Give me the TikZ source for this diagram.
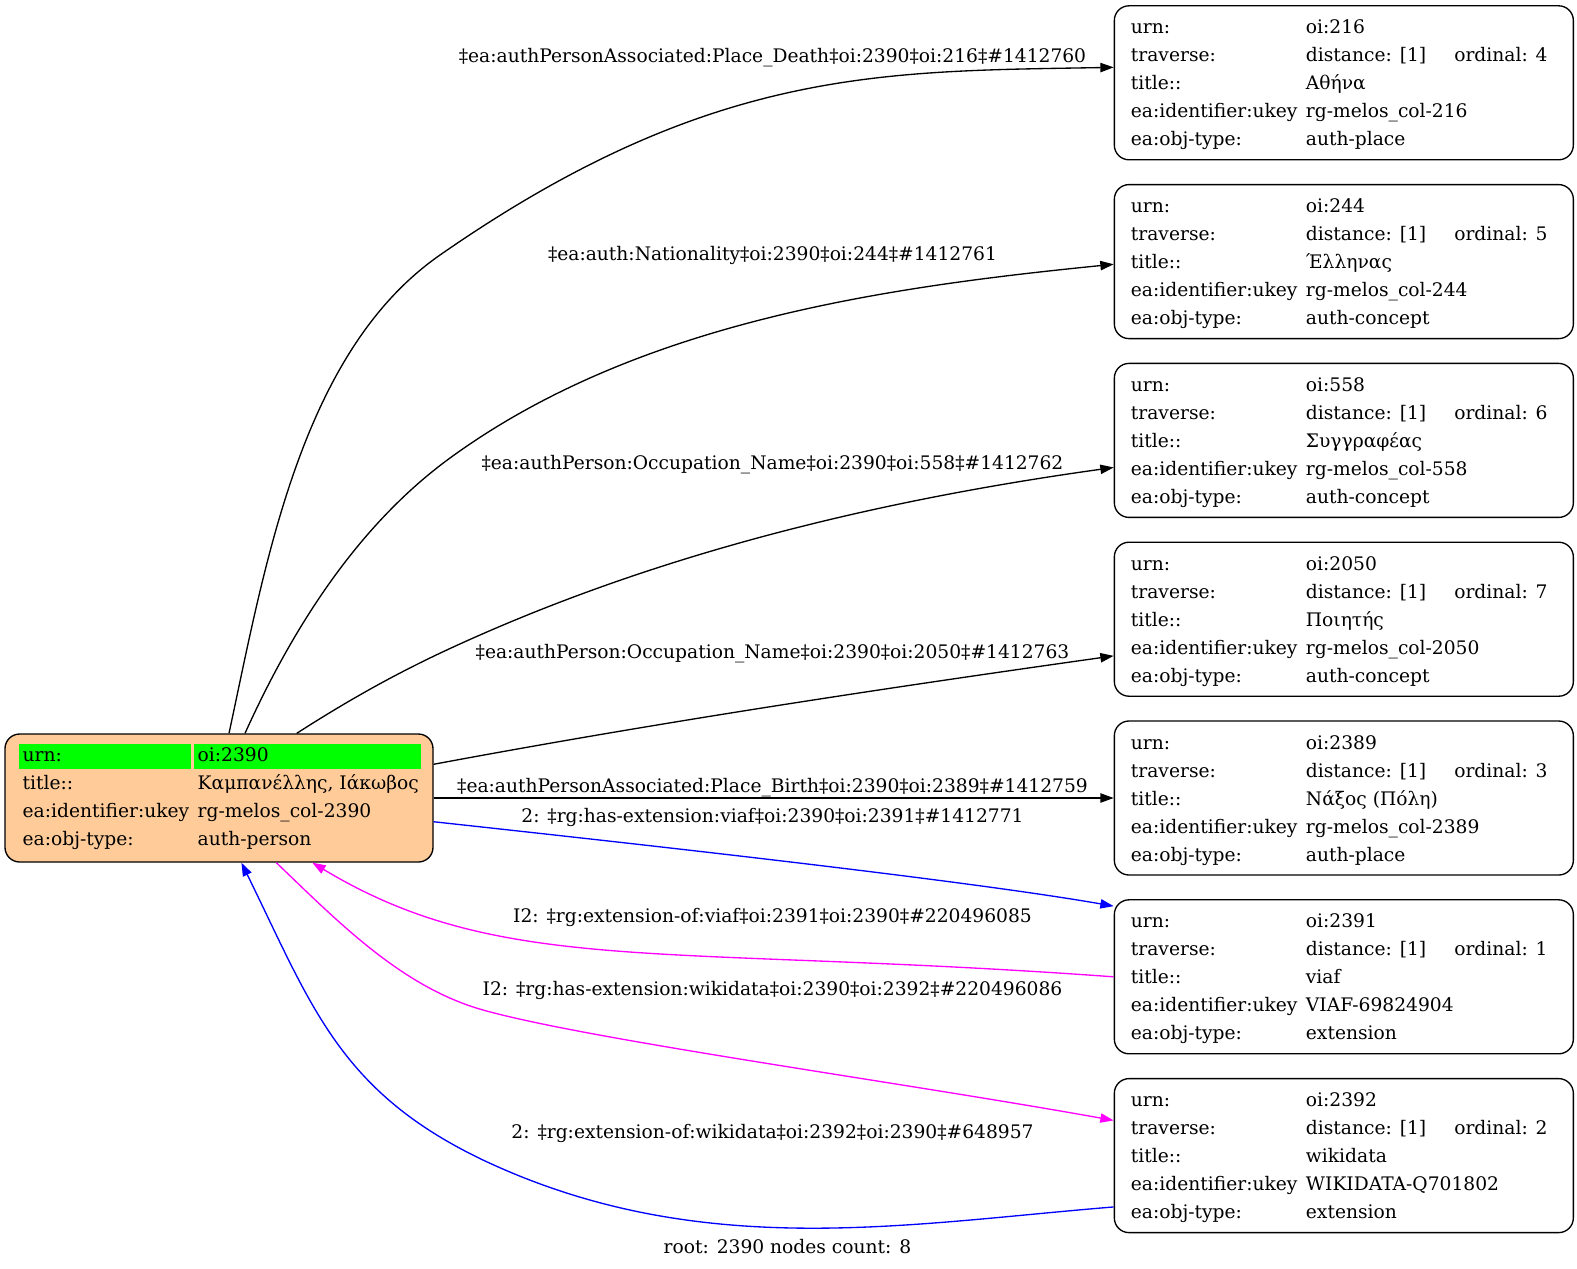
\documentclass[tikz,border=0pt]{standalone}
\usepackage{fontspec}
\setmainfont{DejaVu Serif}
\usepackage{array}
\usetikzlibrary{arrows.meta, positioning}
\definecolor{personfill}{HTML}{FFCC99}
\definecolor{urngreen}{HTML}{00FF00}
\definecolor{extmagenta}{HTML}{FF00FF}
\definecolor{viafblue}{HTML}{0000FF}
\setlength{\fboxsep}{0pt}
\tikzstyle{record} = [rectangle, draw=black, line width=1pt, rounded corners=11pt, inner sep=0pt, minimum width=344.25pt, minimum height=115.5pt]
\tikzstyle{person} = [record, fill=personfill, minimum width=321pt, minimum height=96pt]
\tikzstyle{edgelabel} = [anchor=base, inner sep=0pt]
\tikzstyle{arrow} = [line width=1pt, -{Triangle[length=10pt, width=7pt]}]
\tikzstyle{viaf} = [arrow, viafblue]
\tikzstyle{extension} = [arrow, extmagenta]
\newcommand{\recordtable}[5]{%
\begin{tabular}{@{\hspace{12.45pt}}p{131.25pt}@{}p{188.1pt}@{\hspace{12.45pt}}}
\rule{0pt}{16.95pt}urn: & oi:#1 \\
traverse: & \makebox[111.3pt][l]{distance: [1]}ordinal: #2 \\
title:: & #3 \\
ea:identifier:ukey & #4 \\
ea:obj-type: & #5
\end{tabular}}
\newcommand{\personkey}[1]{\makebox[128.8pt][l]{\hspace{2.55pt}#1}}
\newcommand{\personval}[1]{\makebox[170pt][l]{\hspace{2.8pt}#1}}
\newcommand{\urnmark}{\rule[-5.3pt]{0pt}{18.7pt}}

\begin{document}
\begin{tikzpicture}[x=0.75pt, y=-0.75pt, font=\fontsize{14}{21}\selectfont]
	\useasboundingbox (0,0) rectangle (1577,1268);
	\node (Person) [person] at (219,798) {\begin{tabular}{@{\hspace{10.7pt}}l@{\hspace{2.25pt}}l@{\hspace{9.25pt}}}
		\colorbox{urngreen}{\urnmark\personkey{urn:}} & \colorbox{urngreen}{\urnmark\personval{oi:2390}} \\
		\personkey{title::} & \personval{Καμπανέλλης, Ιάκωβος} \\
		\personkey{ea:identifier:ukey} & \personval{rg-melos\_col-2390} \\
		\personkey{ea:obj-type:} & \personval{auth-person}
	\end{tabular}};
	\node (Birth) [record, right = 510pt of Person] {\recordtable{2389}{3}{Νάξος (Πόλη)}{rg-melos\_col-2389}{auth-place}};
	\node (Poet) [record, above = 17.6pt of Birth] {\recordtable{2050}{7}{Ποιητής}{rg-melos\_col-2050}{auth-concept}};
	\node (Writer) [record, above = 17.6pt of Poet] {\recordtable{558}{6}{Συγγραφέας}{rg-melos\_col-558}{auth-concept}};
	\node (Nationality) [record, above = 17.6pt of Writer] {\recordtable{244}{5}{Έλληνας}{rg-melos\_col-244}{auth-concept}};
	\node (Death) [record, above = 17.6pt of Nationality] {\recordtable{216}{4}{Αθήνα}{rg-melos\_col-216}{auth-place}};
	\node (Viaf) [record, below = 17.6pt of Birth] {\recordtable{2391}{1}{viaf}{VIAF-69824904}{extension}};
	\node (Wikidata) [record, below = 17.6pt of Viaf] {\recordtable{2392}{2}{wikidata}{WIKIDATA-Q701802}{extension}};
	\node (DeathLabel) [edgelabel] at (772.5,62.5) {‡ea:authPersonAssociated:Place\_Death‡oi:2390‡oi:216‡\#1412760};
	\node (NationalityLabel) [edgelabel] at (772.5,260.6) {‡ea:auth:Nationality‡oi:2390‡oi:244‡\#1412761};
	\node (WriterLabel) [edgelabel] at (772.5,469.8) {‡ea:authPerson:Occupation\_Name‡oi:2390‡oi:558‡\#1412762};
	\node (PoetLabel) [edgelabel] at (772.5,658.9) {‡ea:authPerson:Occupation\_Name‡oi:2390‡oi:2050‡\#1412763};
	\node (BirthLabel) [edgelabel] at (772.5,792.4) {‡ea:authPersonAssociated:Place\_Birth‡oi:2390‡oi:2389‡\#1412759};
	\node (ViafLabel) [edgelabel] at (772.5,822.2) {2: ‡rg:has-extension:viaf‡oi:2390‡oi:2391‡\#1412771};
	\node (ViafBackLabel) [edgelabel] at (772.5,922.2) {I2: ‡rg:extension-of:viaf‡oi:2391‡oi:2390‡\#220496085};
	\node (WikidataLabel) [edgelabel] at (772.5,995.5) {I2: ‡rg:has-extension:wikidata‡oi:2390‡oi:2392‡\#220496086};
	\node (WikidataBackLabel) [edgelabel] at (772.5,1138.7) {2: ‡rg:extension-of:wikidata‡oi:2392‡oi:2390‡\#648957};
	\node (RootLabel) [edgelabel] at (787.5,1253.7) {root: 2390 nodes count: 8};
	\draw [arrow] ([xshift=7.5pt]Person.north) .. controls (265.4,564) and (300.6,352) .. (440,255) .. controls (710.6,66.9) and (883,71.5) .. ([yshift=11.6pt]Death.west);
	\draw [arrow] ([xshift=19.5pt]Person.north) .. controls (292,629.3) and (356.9,525.9) .. (450,458) .. controls (636.3,322.3) and (883,287.3) .. ([yshift=-2pt]Nationality.west);
	\draw [arrow] ([xshift=58.3pt]Person.north) .. controls (347,701) and (395.4,673.7) .. (450,648.5) .. controls (659,552) and (883,499.6) .. ([yshift=-20.3pt]Writer.west);
	\draw [arrow] ([yshift=25.3pt]Person.east) .. controls (660,722) and (886,688) .. ([yshift=-27.5pt]Poet.west);
	\draw [arrow] (Person.east) -- (Birth.west);
	\draw [viaf] ([yshift=-17.8pt]Person.east) .. controls (633.4,843.5) and (964,880) .. ([yshift=53pt]Viaf.west);
	\draw [extension] (Viaf.west) .. controls (663,944) and (501.8,976.6) .. ([xshift=70pt]Person.south);
	\draw [extension] ([xshift=43pt]Person.south) .. controls (337.8,921.5) and (401.4,987) .. (483,1010) .. controls (590,1040) and (900,1082) .. ([yshift=26.4pt]Wikidata.west);
	\draw [viaf] ([yshift=-38.5pt]Wikidata.west) .. controls (904,1224) and (699,1262) .. (483,1160) .. controls (339,1091.2) and (311.8,1006) .. ([xshift=16.8pt]Person.south);
\end{tikzpicture}
\end{document}
